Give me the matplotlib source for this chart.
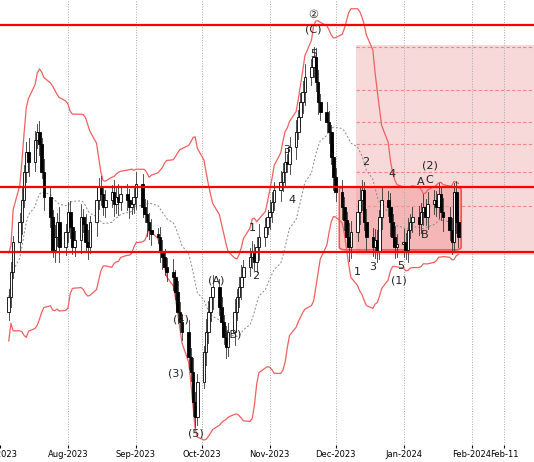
import numpy as np
import pandas as pd
import matplotlib
matplotlib.use("Agg")
import matplotlib.pyplot as plt
import matplotlib.dates as mdates
from matplotlib.patches import Rectangle, FancyBboxPatch

# daily closes (business days from 2023-07-05)
closes = [165, 190, 220,
          240, 262, 290, 310, 300,
          322, 330, 318, 290, 265,
          245, 212, 225, 240, 215,
          230, 250, 235, 215, 222,
          245, 238, 220, 215, 240,
          262, 275, 268, 255, 262,
          270, 258, 265, 260, 268,
          262, 255, 258, 265, 278,
          255, 248, 240, 232, 228,
          225, 210, 205, 195, 190,
          185, 170, 150, 140, 130,
          105, 90, 60, 45, 80,
          110, 130, 150, 165, 175,
          155, 140, 125, 115, 130,
          150, 165, 175, 185, 195,
          205, 210, 200, 215, 225,
          235, 245, 250, 260, 272,
          280, 290, 300, 298, 315,
          330, 345, 360, 370, 385,
          395, 405, 380, 360, 350,
          340, 330, 305, 285, 270,
          255, 242, 225, 215, 230,
          250, 262, 272, 240, 225,
          215, 222, 210, 245, 262,
          255, 240, 225, 215, 218,
          220, 212, 232, 240, 245,
          238, 250, 255, 245, 258,
          262, 255, 268, 250, 245,
          232, 220, 270, 240, 225]
wick = [8, 10, 6, 9, 12, 7, 10, 14, 9, 8, 11, 6, 13, 10, 7, 12, 9, 15, 8, 10,
        11, 7, 9, 13, 8, 10, 12, 6, 14, 9, 11, 8, 10, 7, 12, 9, 13, 8, 10, 11,
        7, 9, 12, 10, 8, 14, 9, 11, 6, 10, 12, 8, 9, 13, 7, 11, 10, 8, 12, 9,
        14, 10, 8, 6, 13, 11, 9, 12, 8, 10, 7, 11, 9, 13, 8, 10, 12, 7, 9, 11,
        8, 10, 13, 9, 7, 12, 10, 8, 11, 9, 14, 8, 10, 12, 7, 9, 11, 13, 8, 10,
        9, 12, 8, 10, 11, 7, 13, 9, 12, 10, 8, 14, 11, 9, 12, 10, 8, 13, 9, 11,
        10, 7, 12, 9, 14, 8, 11, 10, 13, 9, 12, 8, 10, 11, 9, 13, 8, 12, 10, 9,
        11, 8, 14, 10, 12, 9, 11, 10]
levels = [437, 275, 210]
fib_levels = [415, 372, 340, 318, 290, 256]
month_ticks = ["2023-07-01", "2023-08-01", "2023-09-01", "2023-10-01", "2023-11-01",
               "2023-12-01", "2024-01-01", "2024-02-01", "2024-02-16"]
month_labels = ["Jul 2023", "Aug-2023", "Sep-2023", "Oct-2023", "Nov-2023",
                "Dec-2023", "Jan-2024", "Feb-2024", "Feb-11"]

dates = pd.bdate_range("2023-07-05", periods=len(closes))
df = pd.DataFrame({"close": closes, "wick": wick}, index=dates)
df["open"] = df["close"].shift(1).fillna(150)
df["high"] = df[["open", "close"]].max(axis=1) + df["wick"]
df["low"] = df[["open", "close"]].min(axis=1) - df["wick"]
mid = df["close"].rolling(20, min_periods=1).mean()
sd = df["close"].rolling(20, min_periods=2).std().fillna(20)
upper = mid + 2.2 * sd
lower = mid - 2.2 * sd

x0 = pd.Timestamp("2023-07-05")
def px(x):
    return mdates.date2num(x0 + pd.Timedelta(days=x / 2.23))

fig = plt.figure(figsize=(5.34, 4.62), dpi=100)
ax = fig.add_axes([0, 0.037, 1, 0.963])
ax.set_facecolor("white")

# target zone
ax.add_patch(Rectangle((px(353), 207), px(534) - px(353), 210,
                       facecolor="#f7d0d0", edgecolor="none", alpha=0.8, zorder=0))
for lv in fib_levels:
    ax.plot([px(353), px(534)], [lv, lv], color="#e88", lw=0.8, ls=(0, (3, 2)), zorder=1)
ax.add_patch(FancyBboxPatch((px(336), 212), px(460) - px(336), 63,
                            boxstyle="round,pad=0,rounding_size=3", facecolor="#f2a0a0",
                            edgecolor="red", lw=1.2, alpha=0.6, zorder=1))

for t in month_ticks[1:]:
    ax.axvline(mdates.datestr2num(t), color="#aaa", lw=0.7, ls=":", zorder=1)

ax.plot(dates, upper, color="#f06060", lw=0.9, zorder=2)
ax.plot(dates, lower, color="#f06060", lw=0.9, zorder=2)
ax.plot(dates, mid, color="#888", lw=0.7, ls=(0, (2, 2)), zorder=2)

for d, r in df.iterrows():
    xd = mdates.date2num(d)
    ax.plot([xd, xd], [r["low"], r["high"]], color="#333", lw=0.6, zorder=3)
    up = r["close"] >= r["open"]
    b = min(r["open"], r["close"])
    h = max(abs(r["close"] - r["open"]), 1)
    ax.add_patch(Rectangle((xd - 0.6, b), 1.2, h, facecolor="white" if up else "black",
                           edgecolor="black", lw=0.6, zorder=4))

for lv in levels:
    ax.axhline(lv, color="red", lw=1.6, zorder=5)

labels = [(310, 447, "②"), (310, 432, "(C)"), (310, 408, "5"), (283, 312, "3"),
          (288, 262, "4"), (248, 234, "1"), (251, 186, "2"), (211, 181, "(A)"),
          (228, 127, "(B)"), (175, 142, "(4)"), (170, 88, "(3)"), (190, 28, "(5)"),
          (363, 300, "2"), (390, 288, "4"), (354, 190, "1"), (370, 195, "3"),
          (398, 196, "5"), (397, 181, "(1)"), (419, 280, "A"), (428, 296, "(2)"),
          (428, 282, "C"), (423, 227, "B")]
for x, y, s in labels:
    ax.text(px(x), y, s, fontsize=8, ha="center", va="center", color="#222", zorder=6)

ax.set_xlim(px(0), px(534))
ax.set_ylim(17, 462)
ax.set_xticks([mdates.datestr2num(t) for t in month_ticks])
ax.set_xticklabels(month_labels, fontsize=6)
ax.tick_params(axis="x", length=2, pad=2)
ax.set_yticks([])
for s in ax.spines.values():
    s.set_visible(False)

fig.savefig("out.png", dpi=100)
